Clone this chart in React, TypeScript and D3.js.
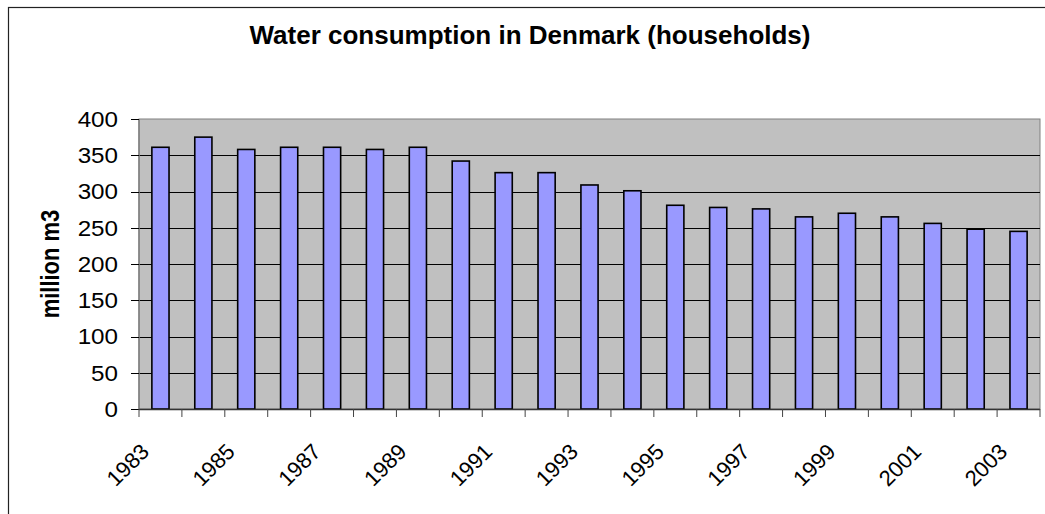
import React from "react";
import * as d3 from "d3";

const years: string[] = [
  "1983", "1984", "1985", "1986", "1987", "1988", "1989", "1990", "1991", "1992", "1993",
  "1994", "1995", "1996", "1997", "1998", "1999", "2000", "2001", "2002", "2003",
];
const consumption: number[] = [
  361, 375, 358, 361, 361, 358, 361, 342, 326, 326, 309,
  301, 281, 278, 276, 265, 270, 265, 256, 248, 245,
];
const yTicks: number[] = [0, 50, 100, 150, 200, 250, 300, 350, 400];
const xLabelYears: string[] = years.filter((_, i) => i % 2 === 0);

const title = "Water consumption in Denmark (households)";
const yTitle = "million m3";

export default function App() {
  const W = 1045;
  const H = 514;
  const plot = { left: 139, right: 1040, top: 119, bottom: 409 };
  const font = "'Liberation Sans', Arial, Helvetica, sans-serif";

  const x = d3
    .scaleBand<string>()
    .domain(years)
    .range([plot.left, plot.right])
    .paddingInner(0.6)
    .paddingOuter(0.3);
  const step = x.step();
  const bandStart = (y: string) => (x(y) as number) - step * 0.3;
  const y = d3.scaleLinear().domain([0, 400]).range([plot.bottom, plot.top]);

  const boundaries = years.map((yr) => bandStart(yr)).concat([plot.right]);

  return (
    <svg
      width={W}
      height={H}
      style={{ position: "absolute", left: 0, top: 0, background: "#fff" }}
      fontFamily={font}
    >
      <rect x={0} y={0} width={W} height={H} fill="#fff" />
      {/* outer chart border */}
      <rect x={8.5} y={7.5} width={1060} height={540} fill="none" stroke="#222" strokeWidth={1.2} />

      {/* title */}
      <text x={530} y={44} textAnchor="middle" fontSize={26} fontWeight="bold" fill="#000">
        {title}
      </text>

      {/* plot area */}
      <rect
        x={plot.left}
        y={plot.top}
        width={plot.right - plot.left}
        height={plot.bottom - plot.top}
        fill="#C0C0C0"
        stroke="#808080"
        strokeWidth={1}
      />

      {/* gridlines */}
      {yTicks
        .filter((t) => t > 0 && t < 400)
        .map((t) => (
          <line
            key={"g" + t}
            x1={plot.left}
            x2={plot.right}
            y1={Math.round(y(t)) + 0.5}
            y2={Math.round(y(t)) + 0.5}
            stroke="#000"
            strokeWidth={1}
          />
        ))}

      {/* bars */}
      {years.map((yr, i) => (
        <rect
          key={"b" + yr}
          x={x(yr)}
          y={y(consumption[i])}
          width={x.bandwidth()}
          height={plot.bottom - y(consumption[i])}
          fill="#9999FF"
          stroke="#000"
          strokeWidth={1.6}
        />
      ))}

      {/* axes lines */}
      <line x1={plot.left} x2={plot.left} y1={plot.top} y2={plot.bottom} stroke="#808080" strokeWidth={1.5} />
      <line x1={plot.left} x2={plot.right} y1={plot.bottom + 0.5} y2={plot.bottom + 0.5} stroke="#333" strokeWidth={1.5} />

      {/* y ticks and labels */}
      {yTicks.map((t) => (
        <g key={"yt" + t}>
          <line
            x1={plot.left - 8}
            x2={plot.left}
            y1={Math.round(y(t)) + 0.5}
            y2={Math.round(y(t)) + 0.5}
            stroke="#000"
            strokeWidth={1}
          />
          <text
            transform={`translate(118,${y(t)}) scale(1.1,1)`}
            dy="0.36em"
            textAnchor="end"
            fontSize={22}
            fill="#000"
          >
            {t}
          </text>
        </g>
      ))}

      {/* x ticks */}
      {boundaries.map((bx, i) => (
        <line
          key={"xt" + i}
          x1={bx}
          x2={bx}
          y1={plot.bottom}
          y2={plot.bottom + 8}
          stroke="#444"
          strokeWidth={1}
        />
      ))}

      {/* x labels */}
      {xLabelYears.map((yr) => {
        const cx = (x(yr) as number) + x.bandwidth() / 2 - 10;
        const cy = 453;
        return (
          <text
            key={"xl" + yr}
            transform={`translate(${cx},${cy}) rotate(-45)`}
            textAnchor="end"
            fontSize={22}
            fill="#000"
          >
            {yr}
          </text>
        );
      })}

      {/* y axis title */}
      <text
        transform={`translate(59,${(plot.top + plot.bottom) / 2}) rotate(-90) scale(1,1.2)`}
        textAnchor="middle"
        fontSize={22}
        fontWeight="bold"
        fill="#000"
      >
        {yTitle}
      </text>
    </svg>
  );
}
